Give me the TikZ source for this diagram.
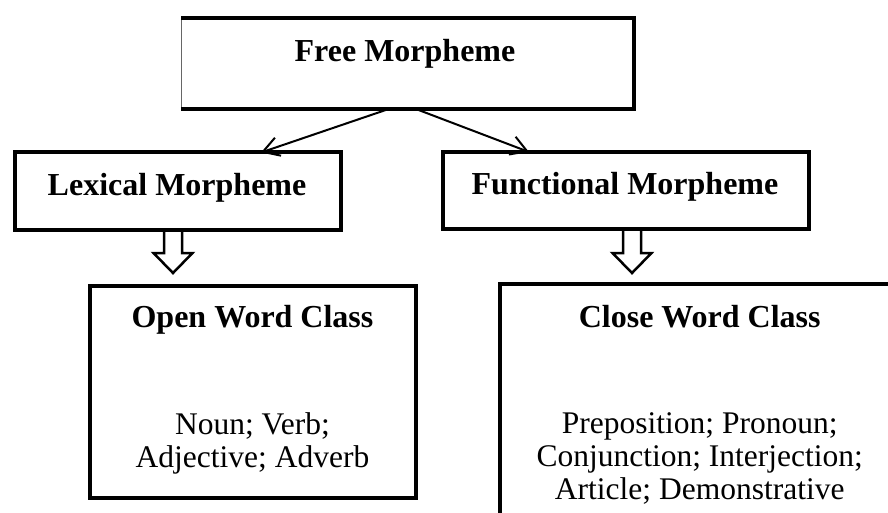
\documentclass[tikz,border=0pt]{standalone}
\usepackage{fontspec}
\setmainfont{Liberation Serif}
\usetikzlibrary{arrows.meta,calc}
\begin{document}
\begin{tikzpicture}[x=1pt,y=-1pt,
  box/.style={draw, line width=4pt, inner sep=0pt, outer sep=0pt, rectangle},
  head/.style={font=\fontsize{32}{34}\selectfont\bfseries, anchor=base, inner sep=0pt},
  body/.style={font=\fontsize{31.5}{33.3}\selectfont, anchor=base, align=center, inner sep=0pt},
  link/.style={line width=2pt, -{Straight Barb[length=16pt,width=19pt]}},
  hollow/.style={draw, line width=2.5pt, fill=white, line join=miter}]
\clip (0,0) rectangle (888,513);
\fill[white] (0,0) rectangle (888,513);
% boxes
\node[box, draw=black!60, line width=1pt, minimum width=452.5pt, minimum height=91.5pt] (free) at (407.25,63.75) {};
\draw[line width=4pt] (free.north west) -- (free.north east) -- (free.south east) -- (free.south west);
\node[box, minimum width=326.5pt, minimum height=77pt] (lex) at (177.75,191) {};
\node[box, minimum width=365.5pt, minimum height=77pt] (fun) at (625.75,190.5) {};
\node[box, minimum width=325.5pt, minimum height=211.5pt] (open) at (252.75,391.75) {};
\node[box, minimum width=401pt, minimum height=256pt] (close) at (700,412) {};
% texts
\node[head] (freeT) at (405,61.5) {Free Morpheme};
\node[head] (lexT) at (177,195) {Lexical Morpheme};
\node[head] (funT) at (625,194) {Functional Morpheme};
\node[head] (openT) at (252.5,327.3) {Open Word Class};
\node[head] (closeT) at (699.7,327) {Close Word Class};
\node[body] (openB) at (252.5,467.5) {Noun; Verb;\\Adjective; Adverb};
\node[body] (closeB) at (699.7,499.7) {Preposition; Pronoun;\\Conjunction; Interjection;\\Article; Demonstrative};
% connectors
\draw[link] ([xshift=-20pt]free.south) -- ([xshift=83.25pt]lex.north);
\draw[link] ([xshift=10pt]free.south) -- ([xshift=-96.75pt]fun.north);
% block arrows
\begin{scope}[shift={($(lex.south)+(-4.75,0)$)}]
\draw[hollow] (-9,0) -- (-9,23.5) -- (-19.5,23.5) -- (0,43.5) -- (19.5,23.5) -- (9,23.5) -- (9,0) -- cycle;
\end{scope}
\begin{scope}[shift={($(fun.south)+(6.25,0)$)}]
\draw[hollow] (-9,0) -- (-9,24) -- (-19.5,24) -- (0,44) -- (19.5,24) -- (9,24) -- (9,0) -- cycle;
\end{scope}
\draw[line width=4pt] (lex.south west) -- (lex.south east);
\draw[line width=4pt] (fun.south west) -- (fun.south east);
\end{tikzpicture}
\end{document}
